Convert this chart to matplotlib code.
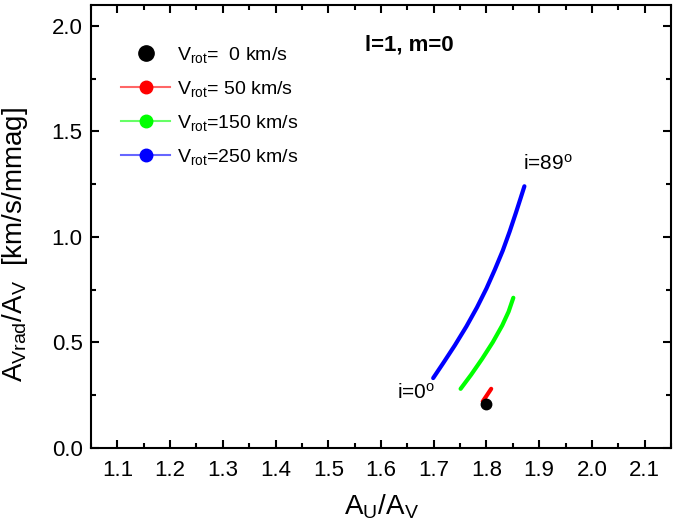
import matplotlib
matplotlib.use('Agg')
import matplotlib.pyplot as plt
from matplotlib.lines import Line2D
from matplotlib.ticker import MultipleLocator

plt.rcParams['font.family'] = ['Liberation Sans', 'DejaVu Sans']
plt.rcParams['mathtext.fontset'] = 'custom'
plt.rcParams['mathtext.rm'] = 'Liberation Sans'
plt.rcParams['mathtext.it'] = 'Liberation Sans:italic'
plt.rcParams['mathtext.bf'] = 'Liberation Sans:bold'

# amplitude ratios along inclination i = 0 .. 89 deg, for each rotation speed
au_av_0 = [1.800]
avrad_0 = [0.205]

au_av_50 = [1.793, 1.801, 1.809]
avrad_50 = [0.219, 0.249, 0.279]

au_av_150 = [1.751, 1.771, 1.792, 1.812, 1.830, 1.842, 1.851]
avrad_150 = [0.279, 0.346, 0.422, 0.500, 0.580, 0.645, 0.711]

au_av_250 = [1.699, 1.718, 1.740, 1.762, 1.782, 1.800, 1.816, 1.831, 1.844, 1.856, 1.865, 1.872]
avrad_250 = [0.330, 0.401, 0.485, 0.575, 0.665, 0.755, 0.845, 0.935, 1.025, 1.115, 1.185, 1.240]

fig = plt.figure(figsize=(6.73, 5.31), dpi=100)
ax = fig.add_axes([0.1352, 0.157, 0.8618, 0.8336])

ax.plot(au_av_250, avrad_250, '-', color='#0000ff', lw=3.0, solid_capstyle='round')
ax.plot(au_av_150, avrad_150, '-', color='#00ff00', lw=3.0, solid_capstyle='round')
ax.plot(au_av_50, avrad_50, '-', color='#ff0000', lw=3.0, solid_capstyle='round')
ax.plot(au_av_0, avrad_0, 'o', color='black', ms=7.5)

ax.text(1.869, 1.30, 'i=89$^{\\rm o}$', fontsize=15, ha='left', va='bottom')
ax.text(1.702, 0.215, 'i=0$^{\\rm o}$', fontsize=15, ha='right', va='bottom')
ax.text(1.57, 1.91, 'l=1, m=0', fontsize=16, fontweight='bold', ha='left', va='center')

handles = [
    Line2D([], [], ls='none', marker='o', color='black', ms=11),
    Line2D([], [], ls='-', lw=1.5, color='#ff6666', marker='o', mfc='red', mec='red', ms=9),
    Line2D([], [], ls='-', lw=1.5, color='#66ff66', marker='o', mfc='#00ff00', mec='#00ff00', ms=9),
    Line2D([], [], ls='-', lw=1.5, color='#6666ff', marker='o', mfc='blue', mec='blue', ms=9),
]
labels = [
    'V$_{\\rm rot}$=  0 km/s',
    'V$_{\\rm rot}$= 50 km/s',
    'V$_{\\rm rot}$=150 km/s',
    'V$_{\\rm rot}$=250 km/s',
]
ax.legend(handles, labels, loc='upper left', bbox_to_anchor=(0.022, 0.95),
          frameon=False, fontsize=14, handlelength=2.5, handletextpad=0.35,
          labelspacing=0.72, borderaxespad=0.5)

ax.set_xlim(1.05, 2.15)
ax.set_ylim(0.0, 2.1)
ax.xaxis.set_major_locator(MultipleLocator(0.1))
ax.xaxis.set_minor_locator(MultipleLocator(0.05))
ax.yaxis.set_major_locator(MultipleLocator(0.5))
ax.yaxis.set_minor_locator(MultipleLocator(0.25))
ax.tick_params(which='both', direction='in', top=True, right=True, width=1.5, labelsize=16)
ax.tick_params(which='major', length=6)
ax.tick_params(which='minor', length=3.5)
ax.tick_params(axis='x', pad=9)
ax.tick_params(axis='y', pad=6)
for s in ax.spines.values():
    s.set_linewidth(1.5)

ax.set_xlabel('A$_{\\rm U}$/A$_{\\rm V}$', fontsize=20, labelpad=8)
ax.set_ylabel('A$_{\\rm Vrad}$/A$_{\\rm V}$  [km/s/mmag]', fontsize=20)
ax.yaxis.set_label_coords(-0.105, 0.46)

fig.savefig('out.png', dpi=100)
